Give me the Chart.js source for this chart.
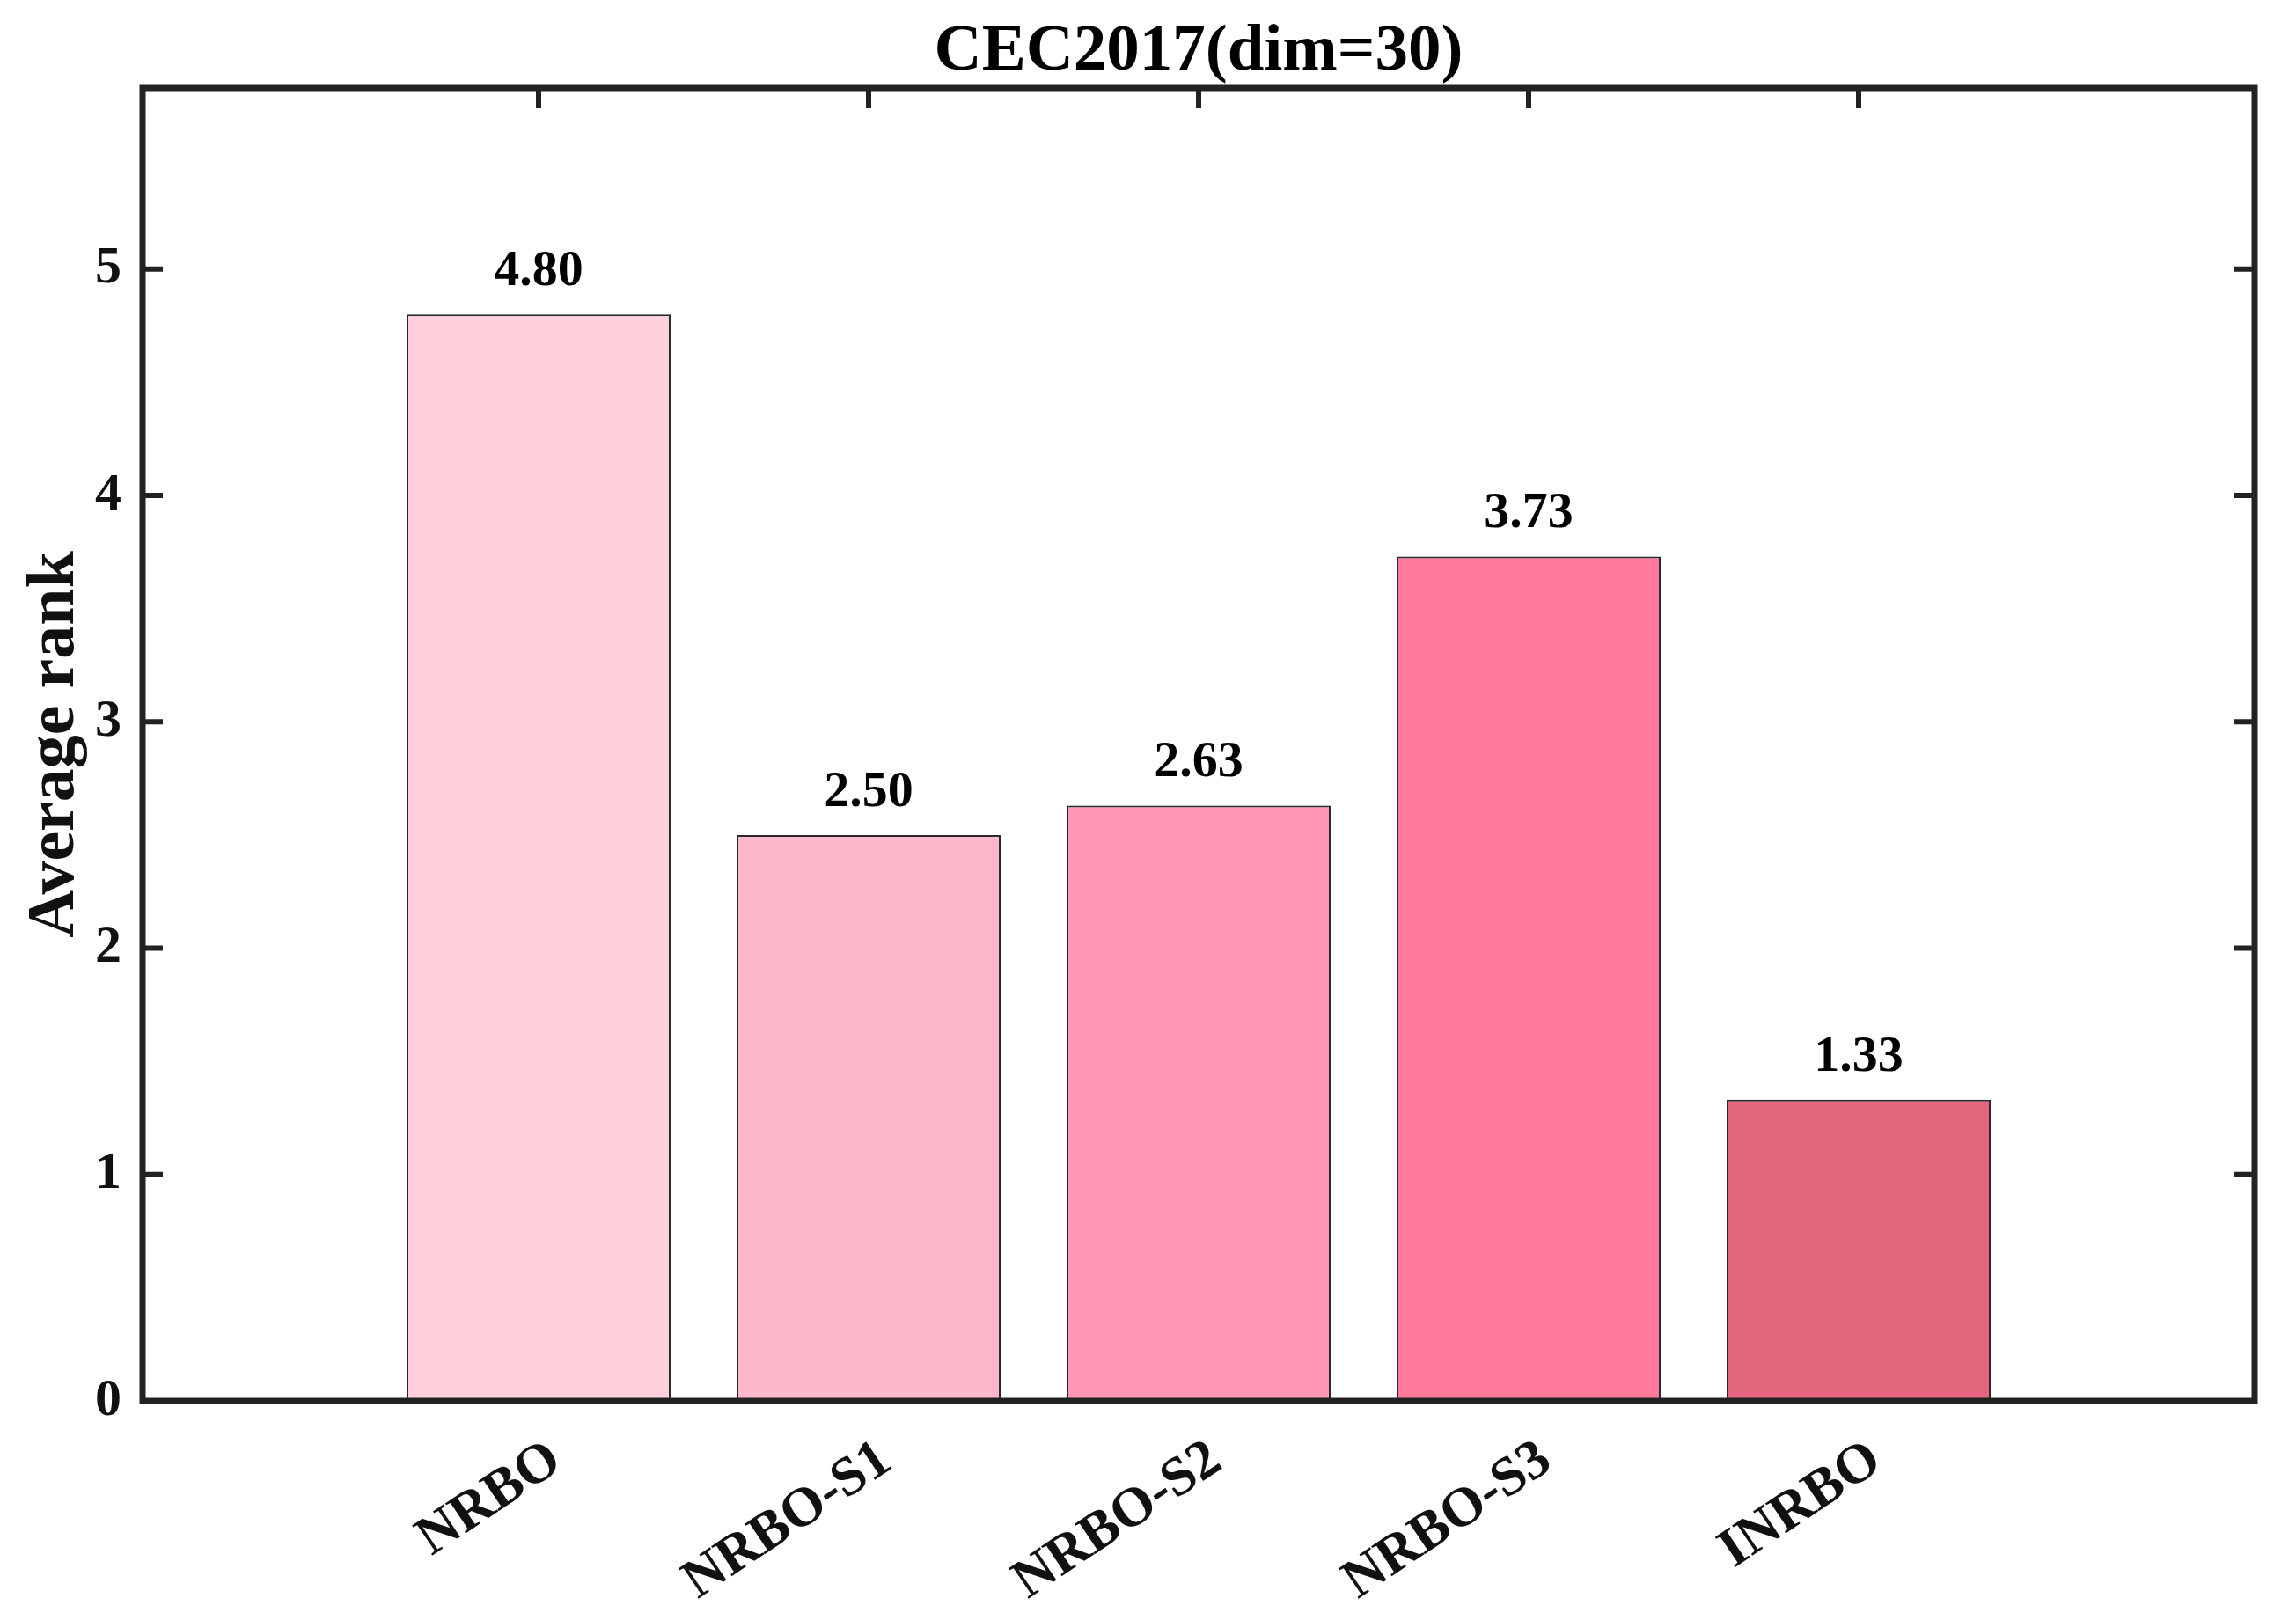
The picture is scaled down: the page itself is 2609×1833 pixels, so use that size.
<!DOCTYPE html>
<html>
<head>
<meta charset="utf-8">
<title>CEC2017(dim=30)</title>
<script src="https://cdn.jsdelivr.net/npm/chart.js@4.4.1/dist/chart.umd.min.js"></script>
<style>
  html, body { margin: 0; padding: 0; background: #ffffff; }
  #wrap { width: 2609px; height: 1833px; position: relative; }
</style>
</head>
<body>
<div id="wrap"><canvas id="rankChart"></canvas></div>
<script>
// Chart data
const chartTitle = 'CEC2017(dim=30)';
const algorithms = ['NRBO', 'NRBO-S1', 'NRBO-S2', 'NRBO-S3', 'INRBO'];
const averageRanks = [4.80, 2.50, 2.63, 3.73, 1.33];
const barColors = ['#FFCFDC', '#FEB8CB', '#FE97B3', '#FE799C', '#E3667E'];
const yTicks = [0, 1, 2, 3, 4, 5];
const yLabel = 'Average rank';

const FONT = "'Liberation Serif', 'Times New Roman', serif";

// Box frame + inward ticks (MATLAB style), drawn from the chart's own scales
const boxPlugin = {
  id: 'boxFrame',
  afterDatasetsDraw(chart) {
    const { ctx, chartArea: a, scales } = chart;
    const tickLen = 23;
    ctx.save();
    ctx.strokeStyle = '#222222';
    ctx.lineWidth = 6;
    ctx.beginPath();
    // y ticks on left and right
    yTicks.forEach(v => {
      const py = scales.y.getPixelForValue(v);
      ctx.moveTo(a.left, py); ctx.lineTo(a.left + tickLen, py);
      ctx.moveTo(a.right, py); ctx.lineTo(a.right - tickLen, py);
    });
    // x ticks on top
    algorithms.forEach((_, i) => {
      const px = scales.x.getPixelForValue(i + 1);
      ctx.moveTo(px, a.top); ctx.lineTo(px, a.top + tickLen);
    });
    ctx.stroke();
    ctx.lineWidth = 7;
    ctx.strokeRect(a.left, a.top, a.right - a.left, a.bottom - a.top);
    ctx.restore();
  },
  afterDraw(chart) {
    const { ctx, chartArea: a } = chart;
    ctx.save();
    ctx.fillStyle = '#000000';
    ctx.font = 'bold 75px ' + FONT;
    ctx.textAlign = 'center';
    ctx.textBaseline = 'middle';
    ctx.fillText(chartTitle, (a.left + a.right) / 2, 60);

    // value labels above bars
    const meta = chart.getDatasetMeta(0);
    ctx.font = 'bold 58px ' + FONT;
    ctx.textBaseline = 'bottom';
    meta.data.forEach((bar, i) => {
      ctx.fillText(averageRanks[i].toFixed(2), bar.x, bar.y - 19);
    });
    ctx.restore();
  }
};

const ctx = document.getElementById('rankChart');

new Chart(ctx, {
  type: 'bar',
  data: {
    datasets: [{
      label: yLabel,
      data: averageRanks.map((v, i) => ({ x: i + 1, y: v })),
      backgroundColor: barColors,
      borderColor: '#2a2a2a',
      borderWidth: 2,
      borderSkipped: false,
      barPercentage: 0.8,
      categoryPercentage: 1.0
    }]
  },
  options: {
    responsive: true,
    maintainAspectRatio: false,
    animation: false,
    devicePixelRatio: 1,
    layout: {
      padding: { left: 0, top: 100, right: 47, bottom: 0 }
    },
    plugins: {
      legend: { display: false },
      title: { display: false },
      tooltip: { enabled: false }
    },
    scales: {
      x: {
        type: 'linear',
        min: -0.2,
        max: 6.2,
        offset: false,
        grid: { display: false, drawTicks: false },
        border: { display: false },
        afterBuildTicks: scale => {
          scale.ticks = algorithms.map((_, i) => ({ value: i + 1 }));
        },
        afterFit: scale => { scale.height = 241; },
        ticks: {
          autoSkip: false,
          minRotation: 34,
          maxRotation: 34,
          padding: 30,
          labelOffset: 20,
          color: '#111111',
          font: { family: FONT, size: 63, weight: 'bold' },
          callback: value => algorithms[value - 1] || ''
        }
      },
      y: {
        min: 0,
        max: 5.8,
        grid: { display: false, drawTicks: false },
        border: { display: false },
        afterBuildTicks: scale => {
          scale.ticks = yTicks.map(v => ({ value: v }));
        },
        afterFit: scale => { scale.width = 162; },
        ticks: {
          padding: 24,
          color: '#111111',
          font: { family: FONT, size: 60, weight: 'bold' }
        },
        title: {
          display: true,
          text: yLabel,
          color: '#111111',
          padding: { top: 18, bottom: 0 },
          font: { family: FONT, size: 76, weight: 'bold' }
        }
      }
    }
  },
  plugins: [boxPlugin]
});
</script>
</body>
</html>
